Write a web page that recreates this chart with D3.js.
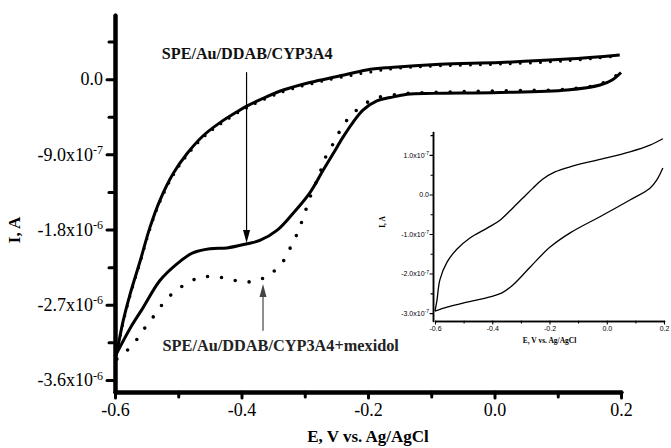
<!DOCTYPE html>
<html lang="en">
<head>
<meta charset="UTF-8">
<title>Cyclic voltammogram</title>
<script src="https://d3js.org/d3.v7.min.js"></script>
<style>
  body { margin: 0; background: #fff; }
  svg { display: block; }
</style>
</head>
<body>
<svg width="671" height="448"></svg>
<script>
const SERIF = "Liberation Serif";
const SANS = "Liberation Sans";

// main plot, [E (V), I (A)]
const solidForward = [
  [-0.600, -3.32e-6], [-0.597, -3.25e-6], [-0.587, -2.89e-6], [-0.576, -2.57e-6],
  [-0.560, -2.17e-6], [-0.545, -1.78e-6], [-0.529, -1.45e-6], [-0.508, -1.13e-6],
  [-0.486, -8.9e-7], [-0.461, -6.8e-7], [-0.434, -5.2e-7], [-0.407, -3.9e-7],
  [-0.391, -3.2e-7], [-0.366, -2.3e-7], [-0.334, -1.3e-7], [-0.292, -4e-8],
  [-0.244, 4e-8], [-0.202, 1.1e-7], [-0.165, 1.4e-7], [-0.086, 1.8e-7],
  [0.009, 2.0e-7], [0.115, 2.4e-7], [0.198, 2.9e-7]
];
const solidReverse = [
  [-0.600, -3.32e-6], [-0.576, -2.98e-6], [-0.556, -2.74e-6], [-0.529, -2.41e-6],
  [-0.502, -2.21e-6], [-0.477, -2.08e-6], [-0.450, -2.03e-6], [-0.423, -2.02e-6],
  [-0.391, -1.97e-6], [-0.371, -1.93e-6], [-0.344, -1.81e-6], [-0.319, -1.61e-6],
  [-0.292, -1.36e-6], [-0.271, -1.09e-6], [-0.255, -8.9e-7], [-0.240, -7.0e-7],
  [-0.224, -5.2e-7], [-0.208, -3.7e-7], [-0.186, -2.6e-7], [-0.165, -2.2e-7],
  [-0.138, -1.8e-7], [-0.097, -1.7e-7], [0.009, -1.6e-7], [0.115, -1.3e-7],
  [0.167, -7e-8], [0.186, -1e-8], [0.200, 8e-8]
];
const dotForward = [
  [-0.598, -3.30e-6], [-0.587, -2.91e-6], [-0.576, -2.59e-6], [-0.560, -2.19e-6],
  [-0.545, -1.80e-6], [-0.529, -1.47e-6], [-0.508, -1.15e-6], [-0.486, -9.1e-7],
  [-0.461, -7.0e-7], [-0.434, -5.4e-7], [-0.391, -3.4e-7], [-0.334, -1.5e-7],
  [-0.292, -6e-8], [-0.244, 2e-8], [-0.165, 1.2e-7], [-0.086, 1.6e-7],
  [0.009, 1.8e-7], [0.115, 2.2e-7], [0.198, 2.8e-7]
];
const dotReverse = [
  [-0.597, -3.35e-6], [-0.573, -3.19e-6], [-0.556, -3.01e-6], [-0.537, -2.82e-6],
  [-0.518, -2.63e-6], [-0.496, -2.49e-6], [-0.472, -2.39e-6], [-0.450, -2.36e-6],
  [-0.426, -2.38e-6], [-0.402, -2.42e-6], [-0.380, -2.42e-6], [-0.358, -2.35e-6],
  [-0.336, -2.20e-6], [-0.323, -2.02e-6], [-0.312, -1.85e-6], [-0.303, -1.67e-6],
  [-0.295, -1.49e-6], [-0.287, -1.32e-6], [-0.277, -1.15e-6], [-0.270, -9.8e-7],
  [-0.257, -8.0e-7], [-0.246, -6.4e-7], [-0.230, -4.6e-7], [-0.206, -3.0e-7],
  [-0.184, -2.2e-7], [-0.162, -1.9e-7], [-0.138, -1.7e-7], [0.009, -1.4e-7],
  [0.115, -1.2e-7], [0.167, -6e-8], [0.198, 7e-8]
];

// inset (bare electrode)
const insetForward = [
  [-0.600, -2.95e-7], [-0.593, -2.67e-7], [-0.583, -2.16e-7], [-0.558, -1.71e-7],
  [-0.523, -1.38e-7], [-0.478, -1.10e-7], [-0.418, -8.5e-8], [-0.373, -6.5e-8],
  [-0.328, -3.4e-8], [-0.293, -9e-9], [-0.258, 1.6e-8], [-0.223, 3.9e-8],
  [-0.181, 5.7e-8], [-0.128, 7.0e-8], [-0.034, 8.7e-8], [0.081, 1.08e-7],
  [0.151, 1.25e-7], [0.196, 1.41e-7]
];
const insetReverse = [
  [-0.600, -2.95e-7], [-0.558, -2.85e-7], [-0.502, -2.75e-7], [-0.408, -2.59e-7],
  [-0.366, -2.49e-7], [-0.328, -2.29e-7], [-0.268, -1.84e-7], [-0.198, -1.33e-7],
  [-0.128, -9.7e-8], [-0.013, -5.2e-8], [0.081, -1.4e-8], [0.151, 1.6e-8],
  [0.175, 3.7e-8], [0.196, 6.7e-8]
];

// ticks
const xMajor = [-0.6, -0.4, -0.2, 0.0, 0.2];
const xMinor = [-0.5, -0.3, -0.1, 0.1];
const xLabels = ["-0.6", "-0.4", "-0.2", "0.0", "0.2"];
const yMajor = [0, -9e-7, -1.8e-6, -2.7e-6, -3.6e-6];
const yMinor = [4.5e-7, -4.5e-7, -1.35e-6, -2.25e-6, -3.15e-6];
const yLabels = [["0.0", ""], ["-9.0x10", "-7"], ["-1.8x10", "-6"], ["-2.7x10", "-6"], ["-3.6x10", "-6"]];
const insetYMajor = [1e-7, 0, -1e-7, -2e-7, -3e-7];
const insetYMinor = [1.5e-7, 0.5e-7, -0.5e-7, -1.5e-7, -2.5e-7];
const insetYLabels = [["1.0x10", "-7"], ["0.0", ""], ["-1.0x10", "-7"], ["-2.0x10", "-7"], ["-3.0x10", "-7"]];

const svg = d3.select("svg");

const x = d3.scaleLinear().domain([-0.6, 0.2]).range([115, 621]);
const y = d3.scaleLinear().domain([-3.744e-6, 7.68e-7]).range([392, 15]);

const line = d3.line().x(d => x(d[0])).y(d => y(d[1])).curve(d3.curveCatmullRom);

function styleAxis(g, w, family, size) {
  g.attr("font-family", family).attr("font-size", size);
  g.select(".domain").attr("stroke", "#000").attr("stroke-width", w).attr("stroke-linecap", "round");
  g.selectAll(".tick line").attr("stroke", "#000").attr("stroke-width", w * 0.75).attr("stroke-linecap", "round");
  g.selectAll(".tick text").attr("fill", "#000");
}

// minor ticks first
svg.append("g").attr("transform", "translate(0,392)")
  .call(d3.axisBottom(x).tickValues(xMinor).tickSize(5).tickSizeOuter(0).tickFormat(""))
  .call(g => styleAxis(g, 4, SERIF, 18));
svg.append("g").attr("transform", "translate(115,0)")
  .call(d3.axisLeft(y).tickValues(yMinor).tickSize(6).tickSizeOuter(0).tickFormat(""))
  .call(g => styleAxis(g, 4, SERIF, 18));

svg.append("g").attr("transform", "translate(0,392)")
  .call(d3.axisBottom(x).tickValues(xMajor).tickSize(6).tickSizeOuter(0).tickPadding(5)
    .tickFormat((d, i) => xLabels[i]))
  .call(g => styleAxis(g, 4, SERIF, 18));

const yAxis = svg.append("g").attr("transform", "translate(115,0)")
  .call(d3.axisLeft(y).tickValues(yMajor).tickSize(8).tickSizeOuter(0).tickPadding(4).tickFormat(""))
  .call(g => styleAxis(g, 4, SERIF, 18));
yAxis.selectAll(".tick text").each(function (d, i) {
  const t = d3.select(this);
  t.append("tspan").text(yLabels[i][0]);
  if (yLabels[i][1]) t.append("tspan").attr("font-size", 12).attr("dy", "-0.55em").text(yLabels[i][1]);
});

svg.append("text").attr("font-family", SERIF).attr("font-weight", "bold").attr("font-size", 17)
  .attr("text-anchor", "middle")
  .attr("transform", "translate(20,230) rotate(-90)")
  .text("I, A");
svg.append("text").attr("font-family", SERIF).attr("font-weight", "bold").attr("font-size", 17)
  .attr("text-anchor", "middle").attr("x", 368).attr("y", 442)
  .text("E, V vs. Ag/AgCl");

// curves
svg.append("path").datum(dotForward).attr("d", line)
  .attr("fill", "none").attr("stroke", "#000").attr("stroke-width", 3)
  .attr("stroke-dasharray", "0 10").attr("stroke-linecap", "round");
svg.append("path").datum(dotReverse).attr("d", line)
  .attr("fill", "none").attr("stroke", "#000").attr("stroke-width", 3.6)
  .attr("stroke-dasharray", "0 14").attr("stroke-linecap", "round");
[solidForward, solidReverse].forEach(s => {
  svg.append("path").datum(s).attr("d", line)
    .attr("fill", "none").attr("stroke", "#000").attr("stroke-width", 3)
    .attr("stroke-linejoin", "round");
});

// annotations
function arrow(e, from, to, color) {
  const px = x(e), y0 = y(from), y1 = y(to);
  const dir = y1 > y0 ? 1 : -1;
  svg.append("line").attr("x1", px).attr("x2", px).attr("y1", y0).attr("y2", y1 - dir * 8)
    .attr("stroke", color).attr("stroke-width", 1.2);
  svg.append("path")
    .attr("d", `M${px},${y1} L${px - 3.5},${y1 - dir * 13} L${px + 3.5},${y1 - dir * 13} Z`)
    .attr("fill", color);
}
arrow(-0.392, 8.4e-8, -1.96e-6, "#000");
arrow(-0.366, -3.01e-6, -2.45e-6, "#444");

svg.append("text").attr("font-family", SERIF).attr("font-weight", "bold").attr("font-size", 16.2)
  .attr("text-anchor", "middle").attr("x", x(-0.391)).attr("y", y(2.4e-7)).attr("fill", "#111")
  .text("SPE/Au/DDAB/CYP3A4");
svg.append("text").attr("font-family", SERIF).attr("font-weight", "bold").attr("font-size", 16.3)
  .attr("text-anchor", "middle").attr("x", x(-0.338)).attr("y", y(-3.25e-6)).attr("fill", "#222")
  .text("SPE/Au/DDAB/CYP3A4+mexidol");

// inset
const ix = d3.scaleLinear().domain([-0.6, 0.2]).range([435, 664]);
const iy = d3.scaleLinear().domain([-3.2e-7, 1.58e-7]).range([321, 132]);
const iline = d3.line().x(d => ix(d[0])).y(d => iy(d[1])).curve(d3.curveCatmullRom);

svg.append("g").attr("transform", "translate(0,321)")
  .call(d3.axisBottom(ix).tickValues(xMinor).tickSize(2).tickSizeOuter(0).tickFormat(""))
  .call(g => styleAxis(g, 1.5, SANS, 7));
svg.append("g").attr("transform", "translate(433,0)")
  .call(d3.axisLeft(iy).tickValues(insetYMinor).tickSize(2).tickSizeOuter(0).tickFormat(""))
  .call(g => styleAxis(g, 1.5, SANS, 7));
svg.append("g").attr("transform", "translate(0,321)")
  .call(d3.axisBottom(ix).tickValues(xMajor).tickSize(3).tickSizeOuter(0).tickPadding(2)
    .tickFormat((d, i) => xLabels[i]))
  .call(g => styleAxis(g, 1.5, SANS, 7));
const iyAxis = svg.append("g").attr("transform", "translate(433,0)")
  .call(d3.axisLeft(iy).tickValues(insetYMajor).tickSize(3).tickSizeOuter(0).tickPadding(1).tickFormat(""))
  .call(g => styleAxis(g, 1.5, SANS, 7));
iyAxis.selectAll(".tick text").each(function (d, i) {
  const t = d3.select(this);
  t.append("tspan").text(insetYLabels[i][0]);
  if (insetYLabels[i][1]) t.append("tspan").attr("font-size", 5).attr("dy", "-0.5em").text(insetYLabels[i][1]);
});
svg.append("text").attr("font-family", SERIF).attr("font-weight", "bold").attr("font-size", 7.5)
  .attr("text-anchor", "middle").attr("transform", "translate(385,222) rotate(-90)")
  .text("I, A");
svg.append("text").attr("font-family", SERIF).attr("font-weight", "bold").attr("font-size", 7.5)
  .attr("text-anchor", "middle").attr("x", ix(-0.2)).attr("y", 343)
  .text("E, V vs. Ag/AgCl");

[insetForward, insetReverse].forEach(s => {
  svg.append("path").datum(s).attr("d", iline)
    .attr("fill", "none").attr("stroke", "#000").attr("stroke-width", 1.3);
});
</script>
</body>
</html>
